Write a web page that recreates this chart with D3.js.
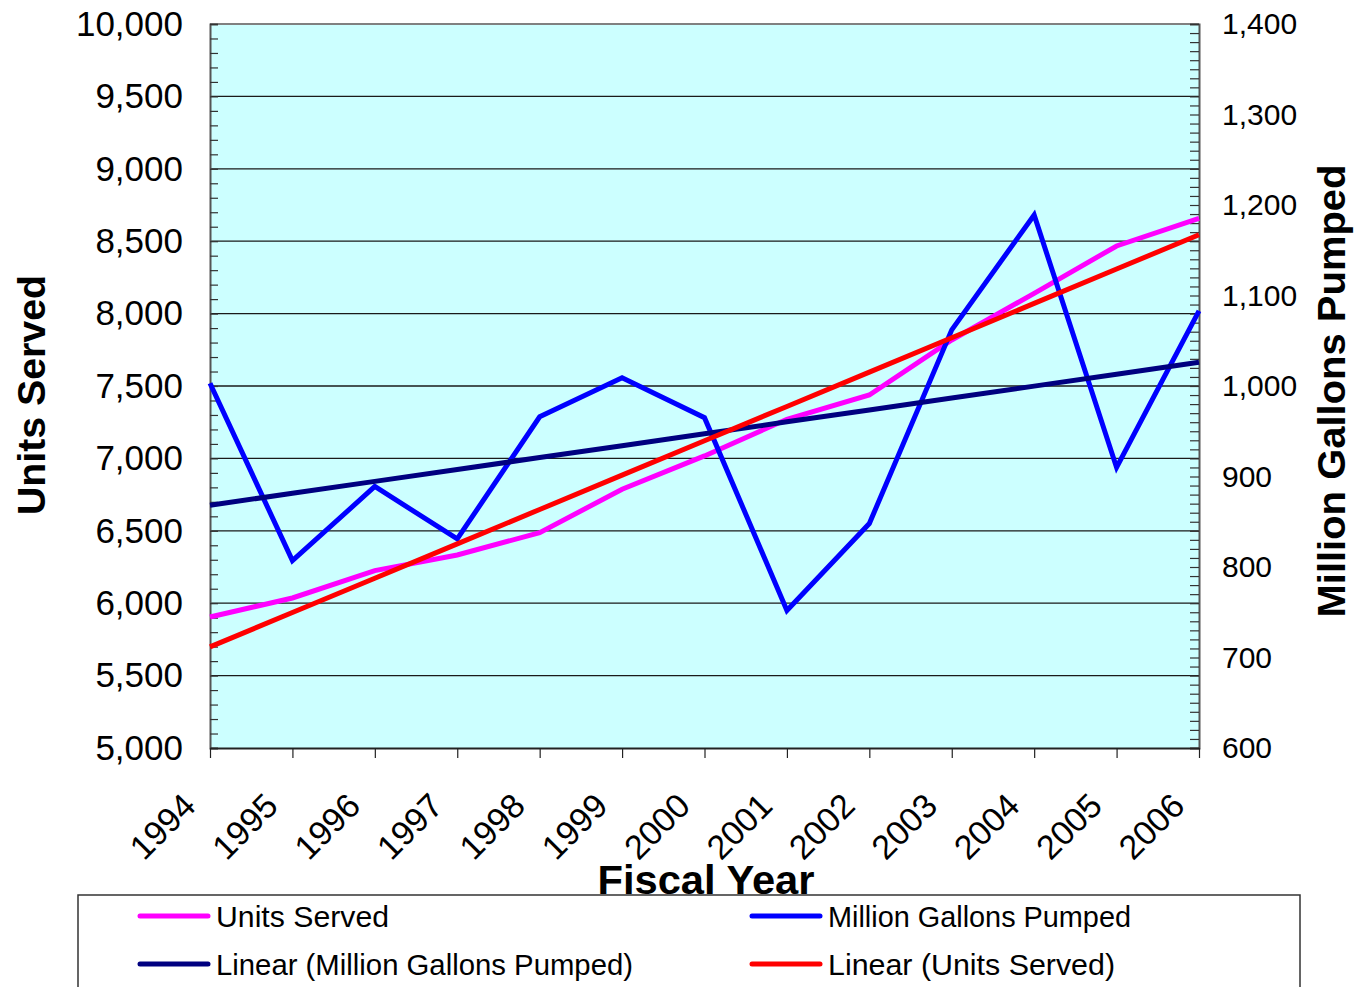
<!DOCTYPE html>
<html>
<head>
<meta charset="utf-8">
<script src="https://cdn.jsdelivr.net/npm/d3@7"></script>
<style>
  html, body { margin: 0; padding: 0; background: #fff; }
  svg { display: block; font-family: "Liberation Sans", Arial, sans-serif; }
</style>
</head>
<body>
<svg id="chart" width="1362" height="987"></svg>
<script>
// ---- data ----
const years = ["1994","1995","1996","1997","1998","1999","2000","2001","2002","2003","2004","2005","2006"];
const unitsServed = [5905, 6036, 6225, 6333, 6487, 6787, 7017, 7270, 7438, 7818, 8140, 8467, 8658];
const gallonsPumped = [1003, 807, 889, 831, 966, 1009, 965, 752, 848, 1062, 1189, 910, 1083];
const leftTicks = [5000, 5500, 6000, 6500, 7000, 7500, 8000, 8500, 9000, 9500, 10000];
const rightTicks = [600, 700, 800, 900, 1000, 1100, 1200, 1300, 1400];
const seriesNames = ["Units Served", "Million Gallons Pumped", "Linear (Million Gallons Pumped)", "Linear (Units Served)"];

// linear trend (least squares) from the series
function linearFit(vals) {
  const mx = d3.mean(vals, (d, i) => i), my = d3.mean(vals);
  let num = 0, den = 0;
  vals.forEach((v, i) => { num += (i - mx) * (v - my); den += (i - mx) * (i - mx); });
  const b = num / den, a = my - b * mx;
  return vals.map((v, i) => a + b * i);
}
const unitsTrend = linearFit(unitsServed);
const gallonsTrend = linearFit(gallonsPumped);

// ---- layout ----
const L = 210, R = 1199, T = 24, B = 748;
const svg = d3.select("#chart");

const x = d3.scalePoint().domain(years).range([L, R]);
const yL = d3.scaleLinear().domain([5000, 10000]).range([B, T]);
const yR = d3.scaleLinear().domain([600, 1400]).range([B, T]);

// plot background
svg.append("rect").attr("x", L).attr("y", T).attr("width", R - L).attr("height", B - T)
  .attr("fill", "#CCFFFF");

// gridlines
svg.append("g").selectAll("line").data(leftTicks.slice(1, -1)).join("line")
  .attr("x1", L).attr("x2", R).attr("y1", d => yL(d)).attr("y2", d => yL(d))
  .attr("stroke", "#1a1a1a").attr("stroke-width", 1.3);

// top border
svg.append("line").attr("x1", L).attr("x2", R).attr("y1", T).attr("y2", T)
  .attr("stroke", "#808080").attr("stroke-width", 2);

// left axis minor ticks (inward)
const leftMinor = d3.range(5000, 10001, 100);
const gLeft = svg.append("g").attr("transform", `translate(${L},0)`)
  .call(d3.axisRight(yL).tickValues(leftMinor).tickSize(8).tickFormat(""));
gLeft.select(".domain").attr("stroke", "#555").attr("stroke-width", 2);
gLeft.selectAll(".tick line").attr("stroke", "#333").attr("stroke-width", 1.2);

// left labels
const gLeftLab = svg.append("g").attr("transform", `translate(${L},0)`)
  .call(d3.axisLeft(yL).tickValues(leftTicks).tickSize(0).tickPadding(27).tickFormat(d3.format(",")));
gLeftLab.select(".domain").remove();
gLeftLab.selectAll("text").attr("font-size", 35).attr("fill", "#000")
  .attr("font-family", "Liberation Sans, Arial, sans-serif");

// right axis minor ticks (inward)
const rightMinor = d3.range(600, 1401, 10);
const gRight = svg.append("g").attr("transform", `translate(${R},0)`)
  .call(d3.axisLeft(yR).tickValues(rightMinor).tickSize(9).tickFormat(""));
gRight.select(".domain").attr("stroke", "#555").attr("stroke-width", 2);
gRight.selectAll(".tick line").attr("stroke", "#333").attr("stroke-width", 1.2);

// right labels
const gRightLab = svg.append("g").attr("transform", `translate(${R},0)`)
  .call(d3.axisRight(yR).tickValues(rightTicks).tickSize(0).tickPadding(23).tickFormat(d3.format(",")));
gRightLab.select(".domain").remove();
gRightLab.selectAll("text").attr("font-size", 30).attr("fill", "#000")
  .attr("font-family", "Liberation Sans, Arial, sans-serif");

// bottom axis
const gX = svg.append("g").attr("transform", `translate(0,${B})`)
  .call(d3.axisBottom(x).tickSize(10).tickSizeOuter(0));
gX.select(".domain").attr("stroke", "#222").attr("stroke-width", 2);
gX.selectAll(".tick line").attr("stroke", "#222").attr("stroke-width", 1.2);
gX.selectAll(".tick text")
  .attr("font-size", 34).attr("fill", "#000")
  .attr("font-family", "Liberation Sans, Arial, sans-serif")
  .attr("text-anchor", "end").attr("dy", null).attr("y", null)
  .attr("transform", "translate(-13,60) rotate(-45)");

// lines
const lineL = d3.line().x((d, i) => x(years[i])).y(d => yL(d));
const lineR = d3.line().x((d, i) => x(years[i])).y(d => yR(d));
const colors = ["#FF00FF", "#0000FF", "#000080", "#FF0000"];

svg.append("path").datum(unitsServed).attr("d", lineL)
  .attr("fill", "none").attr("stroke", colors[0]).attr("stroke-width", 5);
svg.append("path").datum(gallonsPumped).attr("d", lineR)
  .attr("fill", "none").attr("stroke", colors[1]).attr("stroke-width", 5);
svg.append("path").datum(gallonsTrend).attr("d", lineR)
  .attr("fill", "none").attr("stroke", colors[2]).attr("stroke-width", 5);
svg.append("path").datum(unitsTrend).attr("d", lineL)
  .attr("fill", "none").attr("stroke", colors[3]).attr("stroke-width", 5);

// axis titles
svg.append("text").attr("transform", "translate(45,395) rotate(-90)")
  .attr("text-anchor", "middle").attr("font-size", 38).attr("font-weight", "bold")
  .attr("textLength", 240).attr("lengthAdjust", "spacingAndGlyphs")
  .text("Units Served");
svg.append("text").attr("transform", "translate(1345,391) rotate(-90)")
  .attr("text-anchor", "middle").attr("font-size", 38).attr("font-weight", "bold")
  .attr("textLength", 453).attr("lengthAdjust", "spacingAndGlyphs")
  .text("Million Gallons Pumped");
svg.append("text").attr("x", 706).attr("y", 894)
  .attr("text-anchor", "middle").attr("font-size", 40).attr("font-weight", "bold")
  .attr("textLength", 217).attr("lengthAdjust", "spacingAndGlyphs")
  .text("Fiscal Year");

// legend
const lg = svg.append("g");
lg.append("rect").attr("x", 78).attr("y", 895).attr("width", 1222).attr("height", 140)
  .attr("fill", "#fff").attr("stroke", "#333").attr("stroke-width", 1.5);
const legendItems = [
  { name: seriesNames[0], color: colors[0], lx: 138, ly: 916, w: 173 },
  { name: seriesNames[1], color: colors[1], lx: 750, ly: 916, w: 303 },
  { name: seriesNames[2], color: colors[2], lx: 138, ly: 964, w: 417 },
  { name: seriesNames[3], color: colors[3], lx: 750, ly: 964, w: 287 }
];
legendItems.forEach(it => {
  lg.append("line").attr("x1", it.lx + 2).attr("x2", it.lx + 70).attr("y1", it.ly).attr("y2", it.ly)
    .attr("stroke", it.color).attr("stroke-width", 5).attr("stroke-linecap", "round");
  lg.append("text").attr("x", it.lx + 78).attr("y", it.ly + 11)
    .attr("font-size", 30).attr("fill", "#000")
    .attr("textLength", it.w).attr("lengthAdjust", "spacingAndGlyphs")
    .text(it.name);
});
</script>
</body>
</html>
